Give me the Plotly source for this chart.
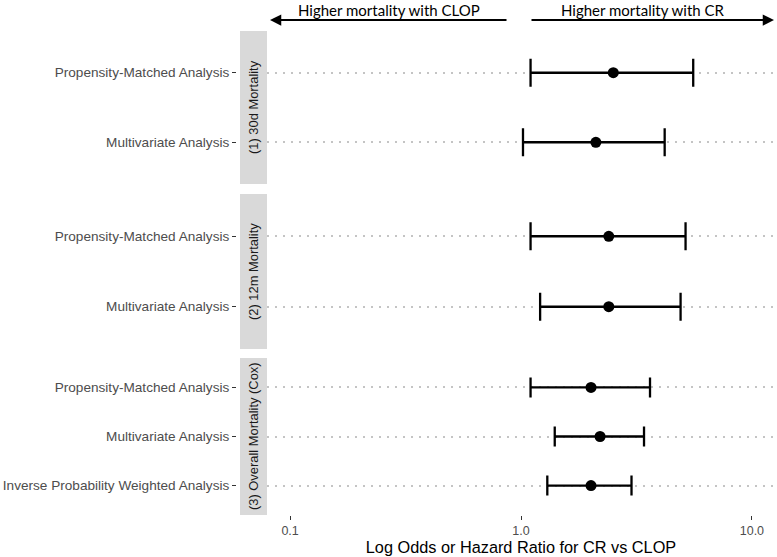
import math
import plotly.graph_objects as go

# ---------------- data ----------------
facets = ["(1) 30d Mortality", "(2) 12m Mortality", "(3) Overall Mortality (Cox)"]

analyses_1 = ["Propensity-Matched Analysis", "Multivariate Analysis"]
est_1 = [2.51, 2.11]
lo_1 = [1.10, 1.02]
hi_1 = [5.57, 4.19]

analyses_2 = ["Propensity-Matched Analysis", "Multivariate Analysis"]
est_2 = [2.40, 2.40]
lo_2 = [1.10, 1.21]
hi_2 = [5.16, 4.91]

analyses_3 = ["Propensity-Matched Analysis", "Multivariate Analysis",
              "Inverse Probability Weighted Analysis"]
est_3 = [2.01, 2.20, 2.01]
lo_3 = [1.10, 1.40, 1.30]
hi_3 = [3.62, 3.41, 3.01]

x_ticks = [0.1, 1.0, 10.0]
x_tick_labels = ["0.1", "1.0", "10.0"]
ref_value = 1.0
x_title = "Log Odds or Hazard Ratio for CR vs CLOP"
arrow_left_text = "Higher mortality with CLOP"
arrow_right_text = "Higher mortality with CR"

# ---------------- geometry (page pixels, body margin removed) ----------------
W, H = 777, 557
PL, PR, PT, PB = 236, 775, 31, 515
ML, MT = PL, PT
MR, MB = W - PR, H - PB
PW = PR - PL
PH = PB - PT


def px_x(px):
    return (px - PL) / PW


def px_y(py):
    return (PB - py) / PH


panel_px = [(31, 184), (194, 349), (358, 515)]
cap_px = [14, 14, 10]
FONT = "Liberation Sans, Arial, sans-serif"

groups = [
    (analyses_1, est_1, lo_1, hi_1),
    (analyses_2, est_2, lo_2, hi_2),
    (analyses_3, est_3, lo_3, hi_3),
]

fig = go.Figure()
shapes = []
annotations = []

for i, (cats, est, lo, hi) in enumerate(groups):
    yname = "y" if i == 0 else f"y{i+1}"
    fig.add_trace(go.Scatter(
        x=est, y=cats, mode="markers",
        xaxis="x", yaxis=yname,
        marker=dict(color="black", size=11),
        error_x=dict(type="data", symmetric=False,
                     array=[h - e for h, e in zip(hi, est)],
                     arrayminus=[e - l for e, l in zip(est, lo)],
                     color="black", thickness=2.3, width=cap_px[i]),
        showlegend=False, hoverinfo="skip",
    ))
    top, bot = panel_px[i]
    axkey = "yaxis" if i == 0 else f"yaxis{i+1}"
    n = len(cats)
    fig.update_layout(**{axkey: dict(
        domain=[px_y(bot), px_y(top)],
        type="category", categoryorder="array", categoryarray=cats,
        range=[n - 0.4, -0.6],
        anchor="free", position=0,
        showgrid=True, gridcolor="#C4C4C4", gridwidth=1.6, griddash="2px,6px",
        zeroline=False, showline=False,
        ticks="outside", ticklen=4, tickwidth=1.1, tickcolor="#333333",
        tickfont=dict(family=FONT, size=13.6, color="#4D4D4D"),
        automargin=False,
    )})
    # reference dashed line per panel
    shapes.append(dict(type="line", xref="x", yref=f"{yname} domain",
                       x0=math.log10(ref_value), x1=math.log10(ref_value), y0=0, y1=1,
                       line=dict(color="black", width=1.4, dash="5px,4px"), layer="below"))
    # strip
    shapes.append(dict(type="rect", xref="paper", yref=f"{yname} domain",
                       x0=px_x(240), x1=px_x(267), y0=0, y1=1,
                       fillcolor="#D9D9D9", line=dict(width=0), layer="below"))
    annotations.append(dict(xref="paper", yref=f"{yname} domain",
                            x=px_x(253.5), y=0.5, text=facets[i], textangle=-90,
                            showarrow=False, xanchor="center", yanchor="middle",
                            font=dict(family=FONT, size=12.9, color="#1A1A1A")))

# arrows with labels
arrow_y = px_y(20)
annotations.append(dict(xref="paper", yref="paper", x=px_x(270), y=arrow_y,
                        axref="pixel", ayref="pixel", ax=508 - 270, ay=0,
                        showarrow=True, arrowhead=2, arrowsize=1.25, arrowwidth=1.8,
                        arrowcolor="black", text="", standoff=0, startstandoff=0))
annotations.append(dict(xref="paper", yref="paper", x=px_x(774), y=arrow_y,
                        axref="pixel", ayref="pixel", ax=-(774 - 530), ay=0,
                        showarrow=True, arrowhead=2, arrowsize=1.25, arrowwidth=1.8,
                        arrowcolor="black", text="", standoff=0, startstandoff=0))
annotations.append(dict(xref="paper", yref="paper", x=px_x(389), y=px_y(0.5),
                        text=arrow_left_text, showarrow=False, borderpad=0,
                        xanchor="center", yanchor="top",
                        font=dict(family="Lato", size=15, color="black")))
annotations.append(dict(xref="paper", yref="paper", x=px_x(643), y=px_y(0.5),
                        text=arrow_right_text, showarrow=False, borderpad=0,
                        xanchor="center", yanchor="top",
                        font=dict(family="Lato", size=15, color="black")))

fig.update_layout(
    width=W, height=H,
    margin=dict(l=ML, r=MR, t=MT, b=MB, pad=0),
    paper_bgcolor="white", plot_bgcolor="white",
    font=dict(family=FONT, color="black"),
    xaxis=dict(
        type="log", range=[-1.1, 1.1], domain=[px_x(267), 1],
        anchor="y3",
        tickvals=x_ticks, ticktext=x_tick_labels,
        ticks="outside", ticklen=4, tickwidth=1.1, tickcolor="#333333",
        tickfont=dict(family=FONT, size=12.5, color="#4D4D4D"),
        showgrid=False, zeroline=False, showline=False,
        title=dict(text=x_title, standoff=3,
                   font=dict(family=FONT, size=16.3, color="black")),
        automargin=False,
    ),
    shapes=shapes,
    annotations=annotations,
)

# remove the browser's default 8px body margin so the figure fills the window
fig.write_html("out.html",
               config={"displayModeBar": False},
               post_script="document.body.style.margin='0';document.body.style.overflow='hidden';")
